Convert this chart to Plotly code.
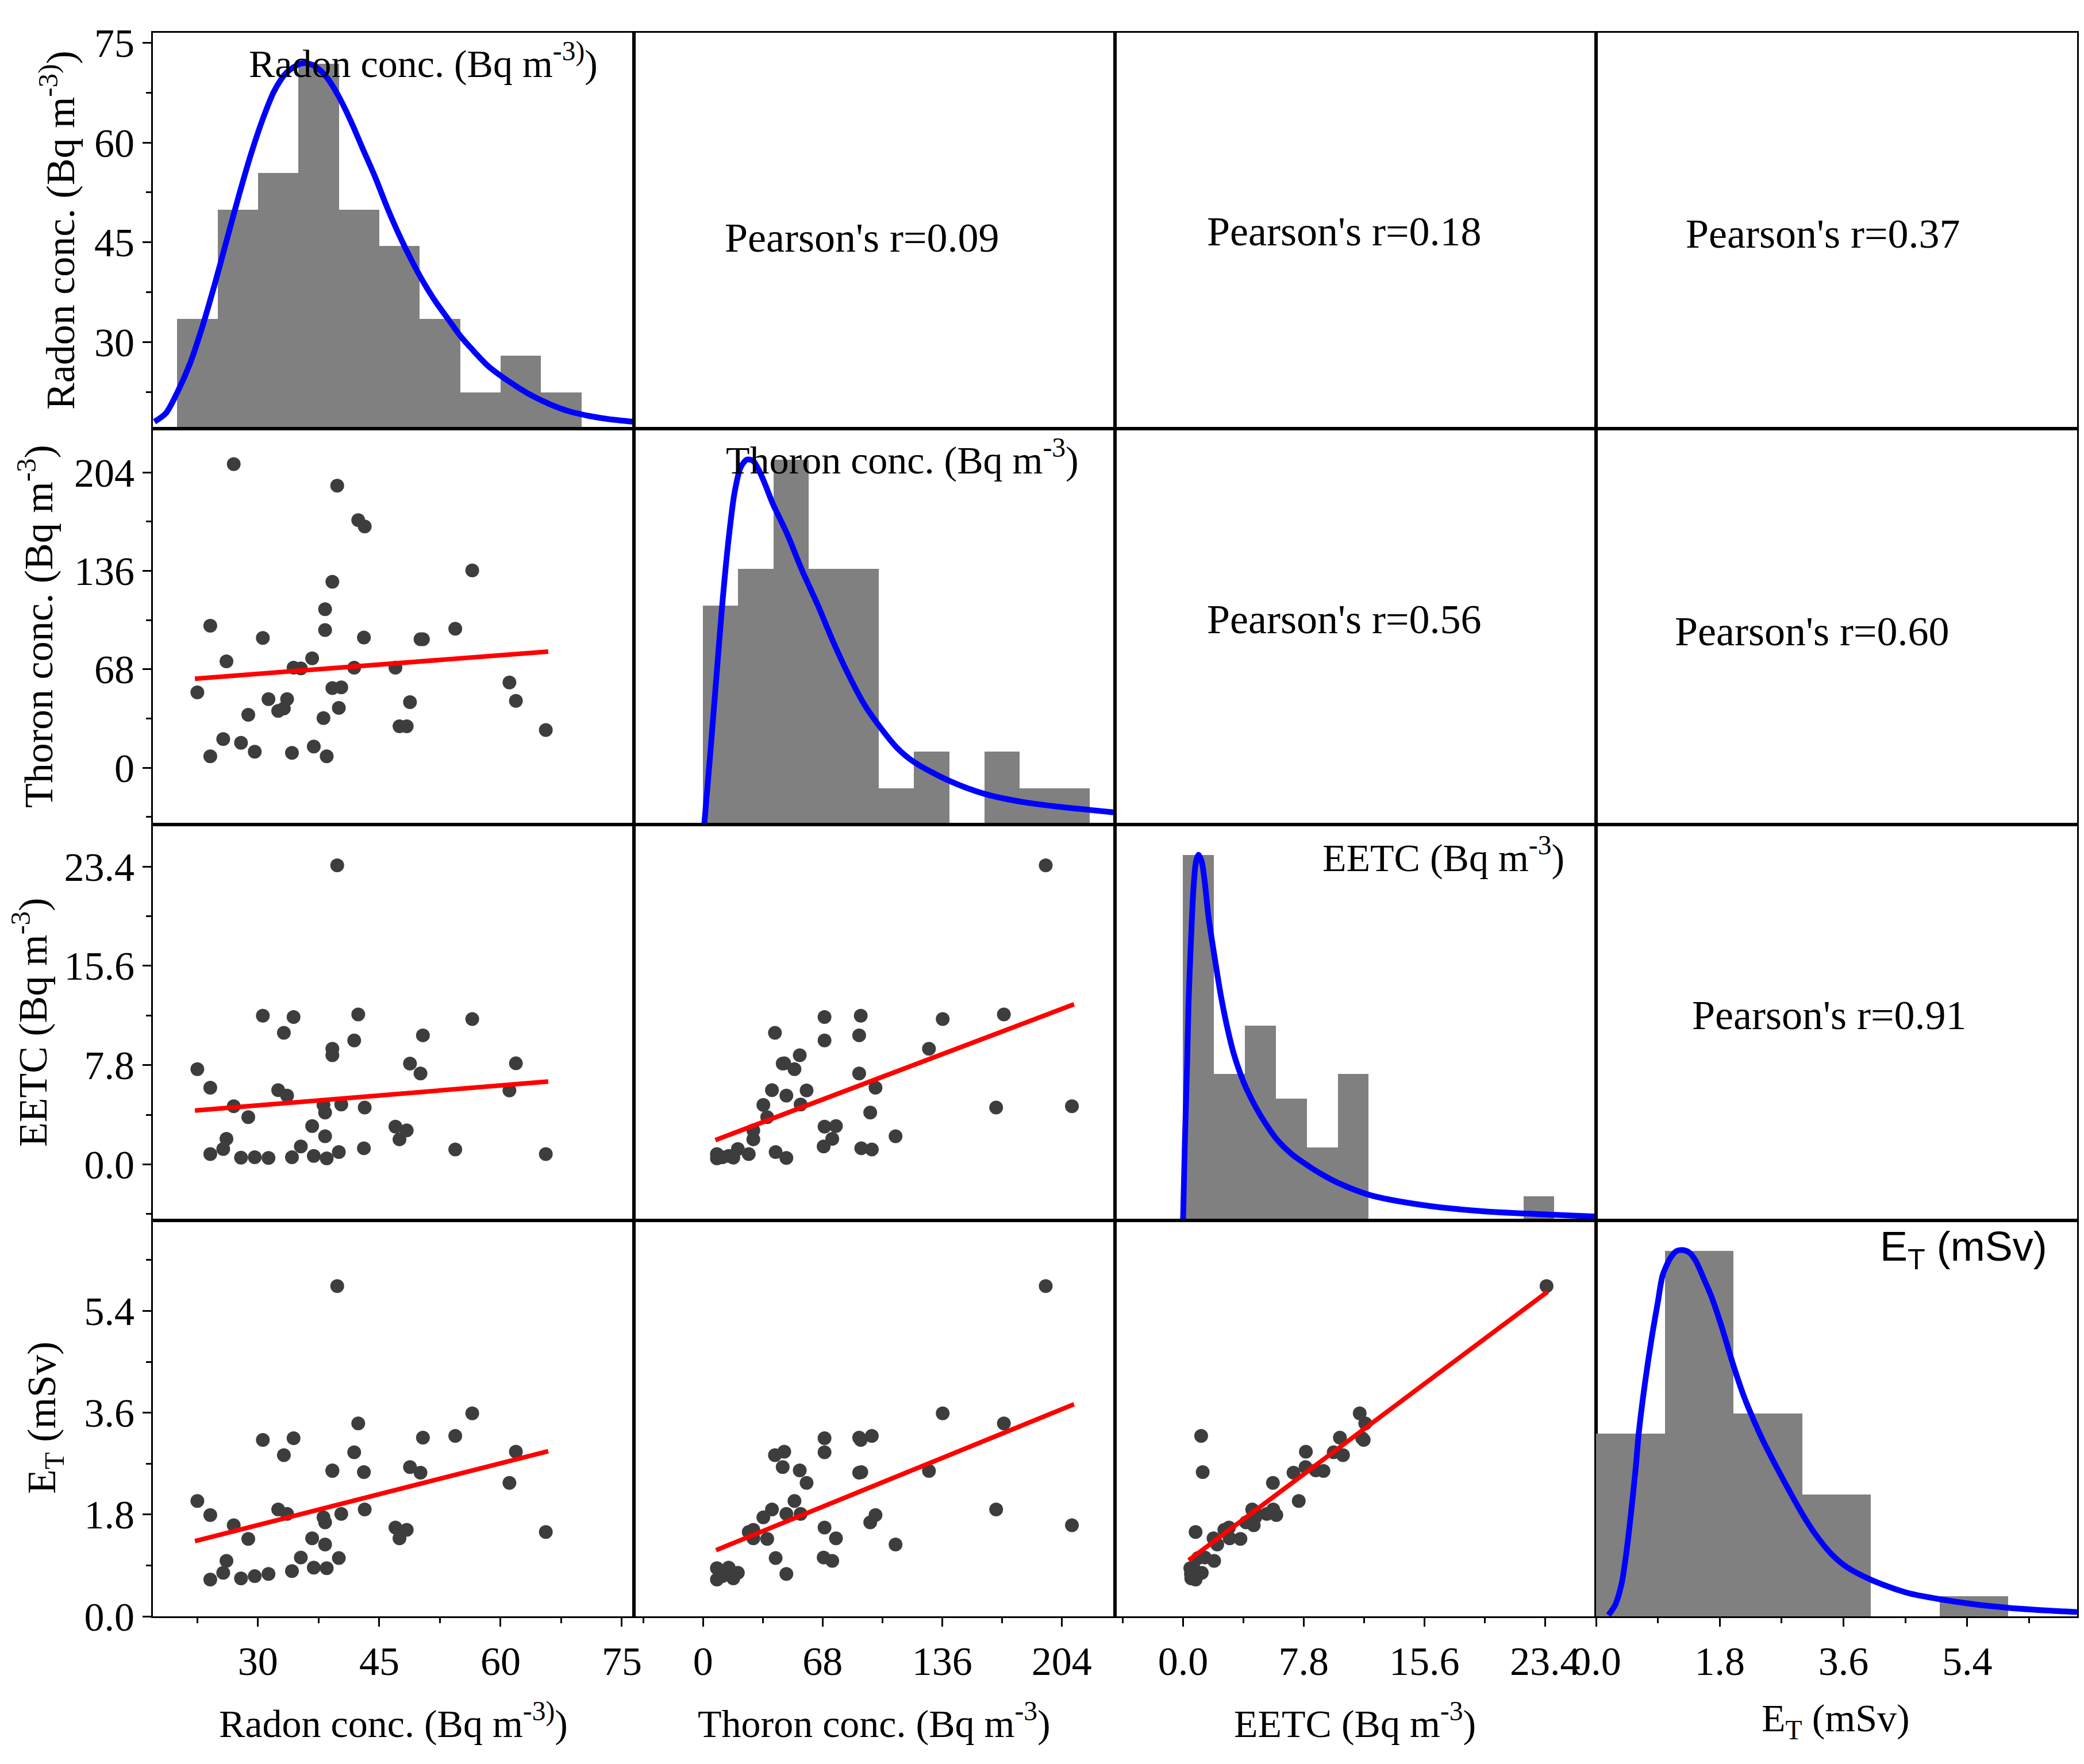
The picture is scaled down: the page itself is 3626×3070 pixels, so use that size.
import plotly.graph_objects as go

# ── Data (43 sampling sites) ───────────────────────────────
radon = [22.5, 24.1, 24.1, 25.7, 26.1, 27.0, 27.9, 28.8, 29.6, 30.6, 31.3, 32.5, 33.2, 33.6, 34.2,
         34.4, 35.3, 36.7, 36.9, 38.1, 38.3, 38.3, 38.5, 39.2, 39.2, 39.8, 40.0, 40.3, 41.9, 42.4,
         43.1, 43.2, 47.0, 47.5, 48.4, 48.8, 50.1, 50.4, 54.4, 56.5, 61.1, 61.9, 65.6]
thoron = [52.0, 98.1, 7.9, 19.8, 73.5, 209.8, 17.2, 36.5, 11.0, 89.7, 47.4, 39.2, 40.9, 47.4, 10.2,
          69.1, 68.6, 75.6, 14.6, 34.3, 95.1, 109.5, 7.9, 128.5, 55.0, 194.9, 41.3, 55.5, 69.1, 171.1,
          90.0, 166.7, 69.1, 28.6, 28.6, 45.3, 88.8, 88.8, 96.0, 136.3, 58.9, 46.2, 26.0]
eetc = [7.48, 6.03, 0.81, 1.21, 2.01, 4.57, 0.53, 3.71, 0.57, 11.68, 0.51, 5.83, 10.34, 5.41, 0.57,
        11.58, 1.41, 3.01, 0.67, 4.67, 4.07, 2.21, 0.47, 9.08, 8.58, 23.5, 0.97, 4.71, 9.74, 11.78,
        1.27, 4.47, 2.97, 1.97, 2.67, 7.92, 7.14, 10.14, 1.17, 11.42, 5.81, 7.94, 0.81]
et = [2.04, 1.79, 0.65, 0.77, 0.98, 1.61, 0.67, 1.37, 0.71, 3.12, 0.75, 1.89, 2.85, 1.81, 0.80,
      3.15, 1.04, 1.38, 0.86, 1.75, 1.66, 1.27, 0.85, 2.57, 2.58, 5.84, 1.03, 1.81, 2.90, 3.41,
      2.55, 1.89, 1.57, 1.38, 1.53, 2.64, 2.54, 3.16, 3.19, 3.59, 2.36, 2.91, 1.49]

# histogram bins (left edges) and counts
radon_bins = [20, 25, 30, 35, 40, 45, 50, 55, 60, 65]
radon_counts = [3, 6, 7, 10, 6, 5, 3, 1, 2, 1]
thoron_bins = [0, 20, 40, 60, 80, 100, 120, 140, 160, 180, 200]
thoron_counts = [6, 7, 10, 7, 7, 1, 2, 0, 2, 1, 1]
eetc_bins = [0, 2, 4, 6, 8, 10, 12, 14, 16, 18, 20, 22]
eetc_counts = [15, 6, 8, 5, 3, 6, 0, 0, 0, 0, 0, 1]
et_bins = [0, 1, 2, 3, 4, 5]
et_counts = [9, 18, 10, 6, 0, 1]
bin_widths = [5, 20, 2, 1]

# distribution curves drawn over the histograms (counts scale)
radon_curve_x = [17.2, 18.6, 20.1, 21.6, 23.1, 24.6, 26.1, 27.6, 29.1, 30.6, 32.0, 33.5, 35.0, 35.8,
                 37.0, 38.5, 40.0, 41.5, 43.0, 44.5, 46.0, 47.5, 49.0, 50.5, 52.0, 53.5, 55.0, 56.5,
                 58.5, 61.0, 63.5, 66.0, 68.4, 70.9, 73.4, 76.4]
radon_curve_y = [0.19, 0.42, 1.03, 1.79, 2.78, 3.92, 5.14, 6.36, 7.50, 8.49, 9.25, 9.75, 9.98, 10.02,
                 9.94, 9.63, 9.10, 8.42, 7.65, 6.89, 6.05, 5.29, 4.61, 4.00, 3.47, 3.01, 2.55, 2.17,
                 1.71, 1.30, 0.95, 0.68, 0.48, 0.35, 0.26, 0.19]
thoron_curve_x = [0.7, 3.9, 7.4, 10.9, 14.4, 17.9, 21.4, 24.9, 28.4, 32.0, 35.5, 39.5, 47.8, 56.2,
                  65.3, 74.1, 82.8, 91.6, 100.4, 110.0, 120.1, 140.4, 160.1, 180.3, 200.0, 220.1, 234.3]
thoron_curve_y = [0.0, 1.82, 3.92, 6.01, 7.76, 9.09, 9.79, 10.0, 9.97, 9.69, 9.30, 8.81, 7.97, 6.98,
                  6.01, 5.00, 4.10, 3.30, 2.69, 2.12, 1.71, 1.19, 0.84, 0.63, 0.50, 0.40, 0.33]
eetc_curve_x = [0.0, 0.12, 0.26, 0.36, 0.52, 0.68, 0.84, 1.0, 1.2, 1.4, 1.65, 2.05, 2.45, 2.85, 3.25,
                3.71, 4.08, 4.74, 5.34, 6.04, 7.03, 8.07, 9.03, 10.02, 12.08, 15.5, 19.49, 24.07, 26.7]
eetc_curve_y = [0.0, 3.24, 6.37, 8.99, 11.6, 13.69, 14.73, 15.0, 14.73, 13.9, 12.43, 10.76, 9.2, 7.94,
                6.9, 6.01, 5.43, 4.6, 3.97, 3.34, 2.72, 2.25, 1.87, 1.54, 1.04, 0.63, 0.37, 0.23, 0.16]
et_curve_x = [0.18, 0.28, 0.37, 0.44, 0.51, 0.58, 0.62, 0.71, 0.81, 0.90, 0.97, 1.08, 1.17, 1.26,
              1.36, 1.45, 1.56, 1.68, 1.82, 1.99, 2.14, 2.25, 2.41, 2.60, 2.78, 3.0, 3.19, 3.43,
              3.66, 4.0, 4.34, 4.57, 4.99, 5.49, 6.0, 6.5, 7.0]
et_curve_y = [0.06, 0.57, 1.58, 3.10, 5.12, 7.40, 8.98, 11.44, 13.72, 15.49, 16.81, 17.64, 17.99,
              18.04, 17.91, 17.51, 16.69, 15.74, 14.35, 12.45, 10.94, 10.01, 8.79, 7.52, 6.38, 5.05,
              4.05, 3.05, 2.40, 1.80, 1.36, 1.12, 0.85, 0.60, 0.42, 0.30, 0.21]

# linear fits (end points), keyed by (row, col)
fit_lines = {
    (2, 1): ([22.2, 65.9], [61.5, 80.2]),
    (3, 1): ([22.2, 65.9], [4.23, 6.51]),
    (4, 1): ([22.2, 65.9], [1.33, 2.92]),
    (3, 2): ([7.0, 211.0], [1.91, 12.58]),
    (4, 2): ([7.4, 211.0], [1.17, 3.75]),
    (4, 3): ([0.36, 23.57], [0.99, 5.74]),
}

pearson = {
    (1, 2): "0.09", (1, 3): "0.18", (1, 4): "0.37",
    (2, 3): "0.56", (2, 4): "0.60", (3, 4): "0.91",
}

names = ["Radon conc. (Bq m<sup>-3)</sup>)", "Thoron conc. (Bq m<sup>-3</sup>)",
         "EETC (Bq m<sup>-3</sup>)", "E<sub>T</sub> (mSv)"]

values = [radon, thoron, eetc, et]
hist = [(radon_bins, radon_counts), (thoron_bins, thoron_counts),
        (eetc_bins, eetc_counts), (et_bins, et_counts)]
curves = [(radon_curve_x, radon_curve_y), (thoron_curve_x, thoron_curve_y),
          (eetc_curve_x, eetc_curve_y), (et_curve_x, et_curve_y)]

# ── Layout geometry (pixels) ───────────────────────────────
W, H = 3626, 3070
L, R, T, B = 258, 20, 49, 265
PW, PH = W - L - R, H - T - B

SERIF = "Liberation Serif, Times New Roman, serif"
SANS = "Liberation Sans, Arial, sans-serif"

ranges = [[17.0, 76.5], [-39.3, 234.3], [-4.4, 26.7], [0.0, 7.0]]
count_top = [10.85, 10.85, 16.24, 19.5]
ticks = [
    dict(dtick=15, minor=7.5, fmt=""),
    dict(dtick=68, minor=34, fmt=""),
    dict(dtick=7.8, minor=3.9, fmt=".1f"),
    dict(dtick=1.8, minor=0.9, fmt=".1f"),
]
tickfont = dict(family=SERIF, size=70, color="black")


def cell(r, c):
    return (r - 1) * 4 + c


def ref(letter, k):
    return letter if k == 1 else f"{letter}{k}"


fig = go.Figure()
layout_axes = {}

for r in range(1, 5):
    for c in range(1, 5):
        k = cell(r, c)
        xr, yr = ref("x", k), ref("y", k)
        if r > c:
            fig.add_trace(go.Scatter(
                x=values[c - 1], y=values[r - 1], mode="markers", xaxis=xr, yaxis=yr,
                marker=dict(color="#3d3d3d", size=24, line=dict(width=0)),
                showlegend=False, hoverinfo="skip"
            ))
            fx, fy = fit_lines[(r, c)]
            fig.add_trace(go.Scatter(
                x=fx, y=fy, mode="lines", xaxis=xr, yaxis=yr,
                line=dict(color="#ff0000", width=8),
                showlegend=False, hoverinfo="skip"
            ))
        else:
            # empty trace so every cell is a real subplot with its frame
            fig.add_trace(go.Scatter(x=[None], y=[None], mode="markers", xaxis=xr, yaxis=yr,
                                     showlegend=False, hoverinfo="skip"))
        if r == c:
            hy = f"y{16 + r}"
            edges, counts = hist[r - 1]
            fig.add_trace(go.Bar(
                x=edges, y=counts, width=bin_widths[r - 1], offset=0, xaxis=xr, yaxis=hy,
                marker=dict(color="#808080", line=dict(width=0)),
                showlegend=False, hoverinfo="skip"
            ))
            cx, cy = curves[r - 1]
            fig.add_trace(go.Scatter(
                x=cx, y=cy, mode="lines", xaxis=xr, yaxis=hy,
                line=dict(color="#0000ff", width=10, shape="spline", smoothing=0.8),
                showlegend=False, hoverinfo="skip"
            ))

        # axes of this cell
        outer_x, outer_y = r == 4, c == 1
        tx, ty = ticks[c - 1], ticks[r - 1]
        common = dict(showgrid=False, zeroline=False, showline=True, mirror=True,
                      linecolor="black", linewidth=3, ticklen=15, tickwidth=3,
                      tickcolor="black", tickfont=tickfont, automargin=False, tick0=0)
        layout_axes["xaxis" if k == 1 else f"xaxis{k}"] = dict(
            common, domain=[(c - 1) / 4, c / 4], anchor=yr, range=ranges[c - 1],
            dtick=tx["dtick"], tickformat=tx["fmt"],
            ticks="outside" if outer_x else "", showticklabels=outer_x,
            minor=dict(dtick=tx["minor"], tick0=0, ticks="outside" if outer_x else "",
                       ticklen=9, tickwidth=3, tickcolor="black"),
        )
        layout_axes["yaxis" if k == 1 else f"yaxis{k}"] = dict(
            common, domain=[1 - r / 4, 1 - (r - 1) / 4], anchor=xr, range=ranges[r - 1],
            dtick=ty["dtick"], tickformat=ty["fmt"],
            ticks="outside" if outer_y else "", showticklabels=outer_y,
            minor=dict(dtick=ty["minor"], tick0=0, ticks="outside" if outer_y else "",
                       ticklen=9, tickwidth=3, tickcolor="black"),
        )
        if r == c:
            layout_axes[f"yaxis{16 + r}"] = dict(
                overlaying=yr, anchor=xr, side="right",
                range=[0, count_top[r - 1]], showgrid=False, zeroline=False,
                showline=False, ticks="", showticklabels=False, automargin=False,
            )


def paper(px, py):
    return (px - L) / PW, 1 - (py - T) / PH


annotations = []


def label(text, px, py, size, family=SERIF, angle=0, xanchor="center"):
    x, y = paper(px, py)
    annotations.append(dict(
        text=text, x=x, y=y, xref="paper", yref="paper", showarrow=False,
        xanchor=xanchor, yanchor="middle", textangle=angle,
        font=dict(family=family, size=size, color="black")
    ))


# Pearson's r in the upper triangle
pearson_pos = {(1, 2): (1492, 406), (1, 3): (2331, 395), (1, 4): (3164, 399),
               (2, 3): (2331, 1070), (2, 4): (3145, 1091), (3, 4): (3175, 1759)}
for key, val in pearson.items():
    px, py = pearson_pos[key]
    label("Pearson's r=" + val, px, py, 72)

# variable names on the diagonal
label(names[0], 728, 98, 68)
label(names[1], 1562, 788, 68)
label(names[2], 2716, 1480, 68, xanchor="right")
label(names[3], 3556, 2166, 72, family=SANS, xanchor="right")

# axis titles
col_centres = [676, 1513, 2349, 3186]
row_centres = [393, 1082, 1771, 2460]
row_title_x = [92, 54, 44, 70]
for i, name in enumerate(names):
    label(name, col_centres[i], 2986 if i == 3 else 2987, 68)
    label(name, row_title_x[i], row_centres[i], 70, angle=-90)

fig.update_layout(
    width=W, height=H, template="none",
    margin=dict(l=L, r=R, t=T, b=B, pad=0),
    paper_bgcolor="white", plot_bgcolor="white",
    bargap=0, showlegend=False,
    font=dict(family=SERIF, color="black"),
    annotations=annotations,
    **layout_axes,
)

fig.write_html("out.html")
